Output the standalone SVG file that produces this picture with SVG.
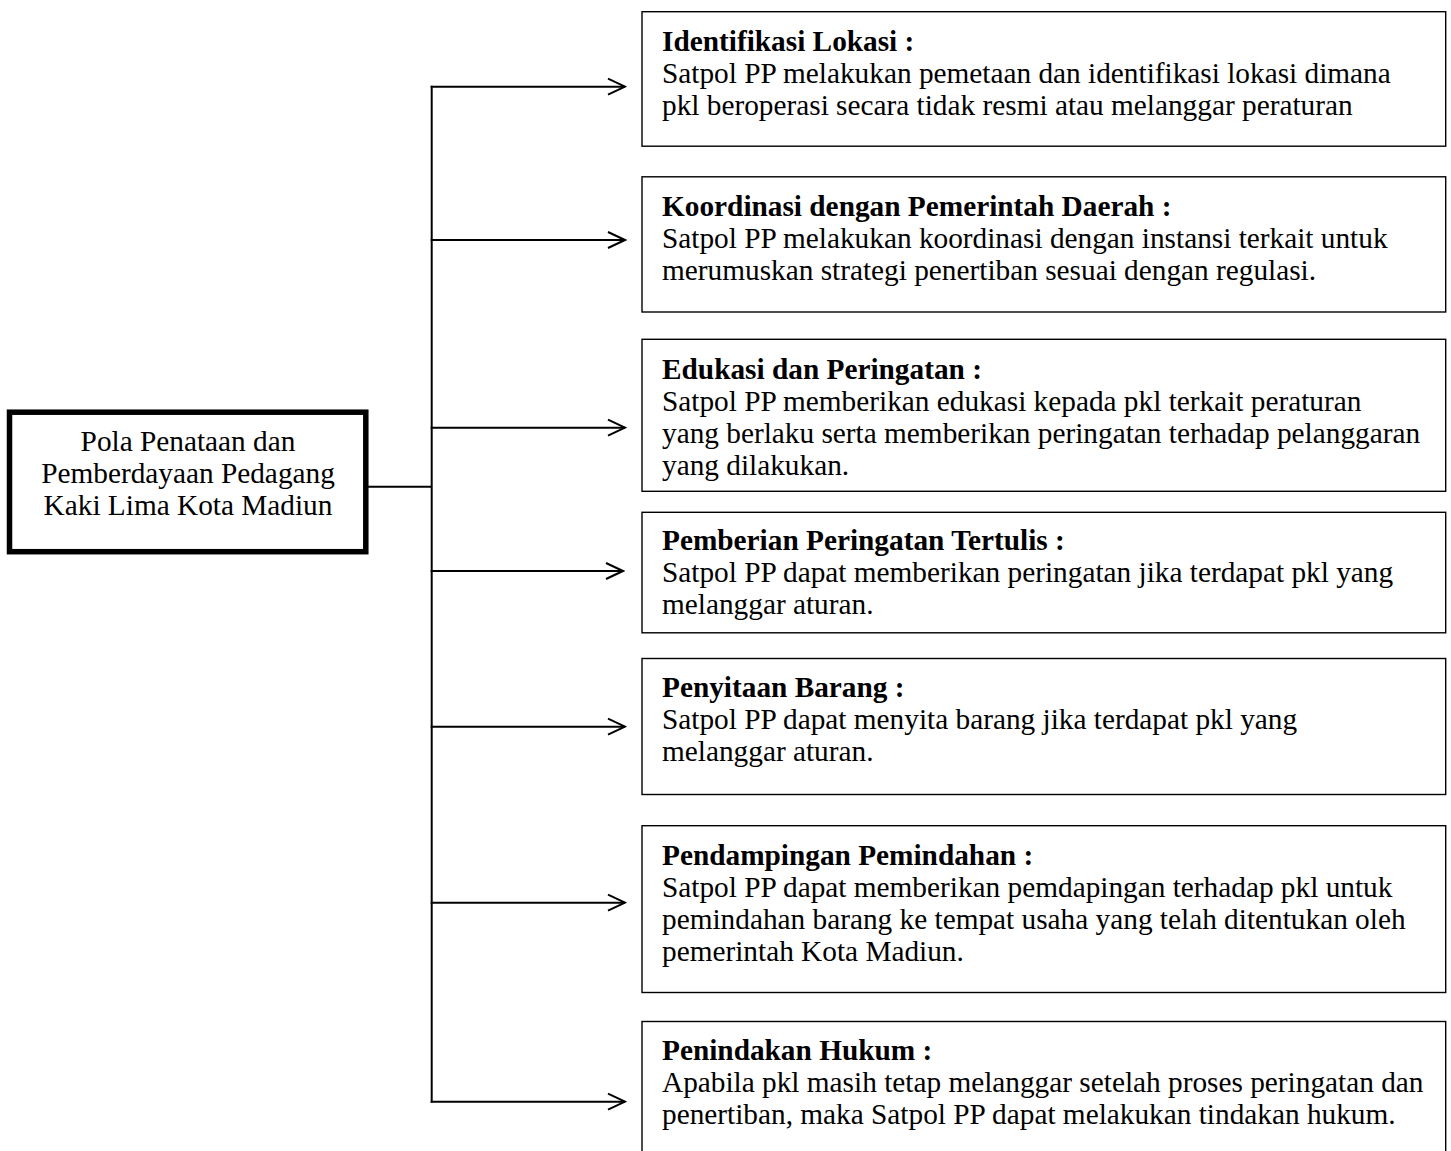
<svg xmlns="http://www.w3.org/2000/svg" width="1451" height="1151" viewBox="0 0 1451 1151">
<style>
text{font-family:"Liberation Serif","Times New Roman",serif;font-size:29.3px;fill:#000}
.t{font-weight:bold}
.c{text-anchor:middle}
.box{fill:#fff;stroke:#000;stroke-width:1.4}
.main{fill:#fff;stroke:#000;stroke-width:5.5}
.ln{fill:none;stroke:#000;stroke-width:2}
</style>
<defs>
<marker id="arr" markerUnits="userSpaceOnUse" viewBox="-20 -10 22 20" refX="0" refY="0" markerWidth="22" markerHeight="20" orient="auto">
<path d="M-17,-8 L0,0 L-17,8" fill="none" stroke="#000" stroke-width="2"/>
</marker>
</defs>
<rect width="1451" height="1151" fill="#fff"/>
<g id="connectors">
<line class="ln" x1="368" y1="486.7" x2="431.7" y2="486.7"/>
<line class="ln" x1="431.7" y1="85.7" x2="431.7" y2="1102.7"/>
<line class="ln" x1="430.7" y1="86.7" x2="625" y2="86.7" marker-end="url(#arr)"/>
<line class="ln" x1="430.7" y1="240" x2="625" y2="240" marker-end="url(#arr)"/>
<line class="ln" x1="430.7" y1="427.7" x2="625" y2="427.7" marker-end="url(#arr)"/>
<line class="ln" x1="430.7" y1="571" x2="623" y2="571" marker-end="url(#arr)"/>
<line class="ln" x1="430.7" y1="726.7" x2="625" y2="726.7" marker-end="url(#arr)"/>
<line class="ln" x1="430.7" y1="902.7" x2="625" y2="902.7" marker-end="url(#arr)"/>
<line class="ln" x1="430.7" y1="1101.7" x2="625" y2="1101.7" marker-end="url(#arr)"/>
</g>
<g id="main">
<rect class="main" x="9.5" y="412.2" width="356.3" height="139.5"/>
<text class="c" x="188" y="451">Pola Penataan dan</text>
<text class="c" x="188" y="483">Pemberdayaan Pedagang</text>
<text class="c" x="188" y="515">Kaki Lima Kota Madiun</text>
</g>
<g id="n1">
<rect class="box" x="642" y="11.7" width="803.7" height="134.5"/>
<text class="t" x="662" y="51">Identifikasi Lokasi :</text>
<text x="662" y="83">Satpol PP melakukan pemetaan dan identifikasi lokasi dimana</text>
<text x="662" y="115">pkl beroperasi secara tidak resmi atau melanggar peraturan</text>
</g>
<g id="n2">
<rect class="box" x="642" y="176.8" width="803.7" height="135.2"/>
<text class="t" x="662" y="216">Koordinasi dengan Pemerintah Daerah :</text>
<text x="662" y="248">Satpol PP melakukan koordinasi dengan instansi terkait untuk</text>
<text x="662" y="280">merumuskan strategi penertiban sesuai dengan regulasi.</text>
</g>
<g id="n3">
<rect class="box" x="642" y="339.3" width="803.7" height="152"/>
<text class="t" x="662" y="379">Edukasi dan Peringatan :</text>
<text x="662" y="411">Satpol PP memberikan edukasi kepada pkl terkait peraturan</text>
<text x="662" y="443">yang berlaku serta memberikan peringatan terhadap pelanggaran</text>
<text x="662" y="475">yang dilakukan.</text>
</g>
<g id="n4">
<rect class="box" x="642" y="512.3" width="803.7" height="120.5"/>
<text class="t" x="662" y="550">Pemberian Peringatan Tertulis :</text>
<text x="662" y="582">Satpol PP dapat memberikan peringatan jika terdapat pkl yang</text>
<text x="662" y="614">melanggar aturan.</text>
</g>
<g id="n5">
<rect class="box" x="642" y="658.5" width="803.7" height="136"/>
<text class="t" x="662" y="697">Penyitaan Barang :</text>
<text x="662" y="729">Satpol PP dapat menyita barang jika terdapat pkl yang</text>
<text x="662" y="761">melanggar aturan.</text>
</g>
<g id="n6">
<rect class="box" x="642" y="825.7" width="803.7" height="166.8"/>
<text class="t" x="662" y="865">Pendampingan Pemindahan :</text>
<text x="662" y="897">Satpol PP dapat memberikan pemdapingan terhadap pkl untuk</text>
<text x="662" y="929">pemindahan barang ke tempat usaha yang telah ditentukan oleh</text>
<text x="662" y="961">pemerintah Kota Madiun.</text>
</g>
<g id="n7">
<rect class="box" x="642" y="1021.5" width="803.7" height="145"/>
<text class="t" x="662" y="1060">Penindakan Hukum :</text>
<text x="662" y="1092">Apabila pkl masih tetap melanggar setelah proses peringatan dan</text>
<text x="662" y="1124">penertiban, maka Satpol PP dapat melakukan tindakan hukum.</text>
</g>
</svg>
